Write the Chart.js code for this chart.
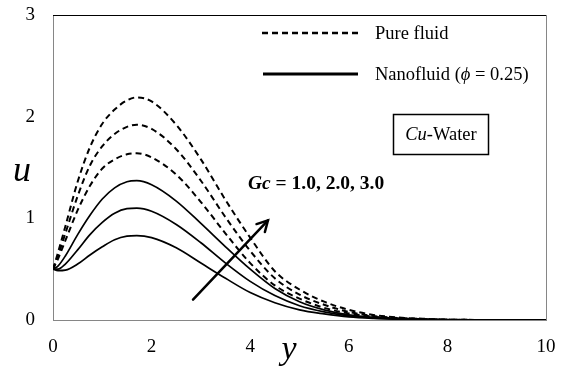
<!DOCTYPE html>
<html>
<head>
<meta charset="utf-8">
<script src="https://cdn.jsdelivr.net/npm/chart.js@4"></script>
<style>
html,body{margin:0;padding:0;background:#fff;}
#wrap{width:568px;height:367px;}
</style>
</head>
<body>
<div id="wrap"><canvas id="c" width="568" height="367"></canvas></div>
<script>
// x positions (y in the figure)
const xValues = [0, 0.1, 0.25, 0.5, 0.75, 1, 1.25, 1.5, 1.7, 2, 2.5, 3, 3.5, 4, 4.5, 5, 5.5, 6, 6.5, 7, 7.5, 8, 9, 10];
// Pure fluid, Gc = 1, 2, 3 (dashed)
const pureGc1 = [0.50, 0.60, 0.78, 1.08, 1.32, 1.49, 1.58, 1.63, 1.64, 1.60, 1.43, 1.16, 0.85, 0.56, 0.34, 0.21, 0.12, 0.065, 0.033, 0.016, 0.008, 0.003, 0, 0];
const pureGc2 = [0.50, 0.63, 0.85, 1.22, 1.52, 1.71, 1.83, 1.90, 1.92, 1.88, 1.68, 1.37, 1.01, 0.68, 0.41, 0.25, 0.15, 0.08, 0.04, 0.02, 0.01, 0.004, 0, 0];
const pureGc3 = [0.50, 0.66, 0.92, 1.36, 1.70, 1.93, 2.07, 2.16, 2.19, 2.15, 1.92, 1.58, 1.18, 0.81, 0.48, 0.30, 0.18, 0.10, 0.05, 0.025, 0.012, 0.005, 0, 0];
// Nanofluid (phi = 0.25), Gc = 1, 2, 3 (solid)
const nanoGc1 = [0.50, 0.485, 0.49, 0.55, 0.64, 0.72, 0.79, 0.825, 0.83, 0.81, 0.71, 0.56, 0.41, 0.27, 0.17, 0.10, 0.06, 0.03, 0.015, 0.007, 0.003, 0.001, 0, 0];
const nanoGc2 = [0.50, 0.50, 0.55, 0.69, 0.84, 0.96, 1.05, 1.095, 1.10, 1.07, 0.94, 0.76, 0.56, 0.38, 0.24, 0.14, 0.08, 0.04, 0.02, 0.01, 0.004, 0.001, 0, 0];
const nanoGc3 = [0.50, 0.53, 0.63, 0.84, 1.03, 1.19, 1.30, 1.36, 1.37, 1.33, 1.17, 0.95, 0.72, 0.50, 0.31, 0.18, 0.10, 0.05, 0.025, 0.012, 0.005, 0.002, 0, 0];
const xTicks = [0, 2, 4, 6, 8, 10];
const yTicks = [0, 1, 2, 3];
const legendLabels = ["Pure fluid", "Nanofluid"];
const gcLabel = "Gc = 1.0, 2.0, 3.0";
const boxLabel = "Cu-Water";
// arrow tail and head in data units
const arrowFrom = [2.84, 0.20];
const arrowTo = [4.36, 0.98];

const SERIF = "'Liberation Serif', 'Times New Roman', serif";

function pts(arr){ return xValues.map((x,i)=>({x:x, y:arr[i]})); }
function ds(arr, dashed){
  return {
    data: pts(arr),
    borderColor: '#000',
    borderWidth: dashed ? 2 : 1.7,
    borderDash: dashed ? [6,4] : [],
    pointRadius: 0,
    fill: false,
    cubicInterpolationMode: 'monotone'
  };
}

const deco = {
  id: 'deco',
  afterDraw(chart){
    const ctx = chart.ctx, a = chart.chartArea;
    const xs = chart.scales.x, ys = chart.scales.y;
    ctx.save();
    // top and right frame
    ctx.lineWidth = 1;
    ctx.strokeStyle = '#000';
    ctx.beginPath(); ctx.moveTo(a.left, a.top + 0.5); ctx.lineTo(a.right, a.top + 0.5); ctx.stroke();
    ctx.strokeStyle = '#868686';
    ctx.beginPath(); ctx.moveTo(a.right + 0.5, a.top); ctx.lineTo(a.right + 0.5, a.bottom); ctx.stroke();

    // legend
    ctx.strokeStyle = '#000';
    ctx.lineWidth = 2.5;
    ctx.setLineDash([6,4]);
    ctx.beginPath(); ctx.moveTo(262, 33); ctx.lineTo(358, 33); ctx.stroke();
    ctx.setLineDash([]);
    ctx.lineWidth = 3;
    ctx.beginPath(); ctx.moveTo(263, 74); ctx.lineTo(358, 74); ctx.stroke();
    ctx.fillStyle = '#000';
    ctx.textBaseline = 'alphabetic';
    ctx.textAlign = 'left';
    const LF = 18.5;
    ctx.font = LF + 'px ' + SERIF;
    ctx.fillText(legendLabels[0], 375, 39);
    let x = 375;
    ctx.fillText(legendLabels[1] + ' (', x, 80);
    x += ctx.measureText(legendLabels[1] + ' (').width;
    ctx.font = 'italic ' + LF + 'px ' + SERIF;
    ctx.fillText('\u03D5', x, 80);
    x += ctx.measureText('\u03D5').width;
    ctx.font = LF + 'px ' + SERIF;
    ctx.fillText(' = 0.25)', x, 80);

    // Cu-Water box
    ctx.lineWidth = 1.5;
    ctx.strokeRect(393.5, 114.5, 95, 40);
    ctx.font = 'italic ' + LF + 'px ' + SERIF;
    const w1 = ctx.measureText('Cu').width;
    ctx.font = LF + 'px ' + SERIF;
    const w2 = ctx.measureText('-Water').width;
    let bx = 441 - (w1 + w2) / 2;
    ctx.font = 'italic ' + LF + 'px ' + SERIF;
    ctx.fillText('Cu', bx, 140);
    ctx.font = LF + 'px ' + SERIF;
    ctx.fillText('-Water', bx + w1, 140);

    // Gc label
    ctx.font = 'bold italic 19.5px ' + SERIF;
    ctx.fillText('Gc', 248, 189);
    const gw = ctx.measureText('Gc').width;
    ctx.font = 'bold 19.5px ' + SERIF;
    ctx.fillText(gcLabel.slice(2), 248 + gw, 189);

    // arrow
    const x0 = xs.getPixelForValue(arrowFrom[0]), y0 = ys.getPixelForValue(arrowFrom[1]);
    const x1 = xs.getPixelForValue(arrowTo[0]), y1 = ys.getPixelForValue(arrowTo[1]);
    ctx.lineWidth = 2.5;
    ctx.lineCap = 'round';
    ctx.beginPath(); ctx.moveTo(x0, y0); ctx.lineTo(x1, y1); ctx.stroke();
    const ang = Math.atan2(y1 - y0, x1 - x0), L = 12;
    ctx.beginPath();
    ctx.moveTo(x1 - L * Math.cos(ang - 0.5), y1 - L * Math.sin(ang - 0.5));
    ctx.lineTo(x1, y1);
    ctx.lineTo(x1 - L * Math.cos(ang + 0.5), y1 - L * Math.sin(ang + 0.5));
    ctx.stroke();

    // axis titles
    ctx.font = 'italic 36px ' + SERIF;
    ctx.textAlign = 'center';
    ctx.fillText('u', 22, 181);
    ctx.font = 'italic 34px ' + SERIF;
    ctx.fillText('y', 289, 359);
    ctx.restore();
  }
};

new Chart(document.getElementById('c'), {
  type: 'line',
  data: {
    datasets: [
      ds(pureGc3, true), ds(pureGc2, true), ds(pureGc1, true),
      ds(nanoGc3, false), ds(nanoGc2, false), ds(nanoGc1, false)
    ]
  },
  options: {
    responsive: false,
    animation: false,
    devicePixelRatio: 1,
    layout: { padding: { top: 15, right: 22, left: 0, bottom: 0 } },
    plugins: { legend: { display: false }, tooltip: { enabled: false } },
    scales: {
      x: {
        type: 'linear', min: 0, max: 10,
        afterBuildTicks(s){ s.ticks = xTicks.map(v => ({value: v})); },
        afterFit(s){ s.height = 47; s.paddingLeft = 0; s.paddingRight = 0; },
        grid: { display: false, drawOnChartArea: false, drawTicks: true, tickLength: 6, color: '#868686' },
        border: { display: true, color: '#868686', width: 1 },
        ticks: { color: '#000', font: { family: SERIF, size: 19 }, padding: 10, maxRotation: 0 }
      },
      y: {
        type: 'linear', min: 0, max: 3,
        afterBuildTicks(s){ s.ticks = yTicks.map(v => ({value: v})); },
        afterFit(s){ s.width = 53; s.paddingTop = 0; s.paddingBottom = 0; },
        grid: { display: false, drawOnChartArea: false, drawTicks: true, tickLength: 6, color: '#868686' },
        border: { display: true, color: '#868686', width: 1 },
        ticks: { color: '#000', font: { family: SERIF, size: 19 }, padding: 12 }
      }
    }
  },
  plugins: [deco]
});
</script>
</body>
</html>
